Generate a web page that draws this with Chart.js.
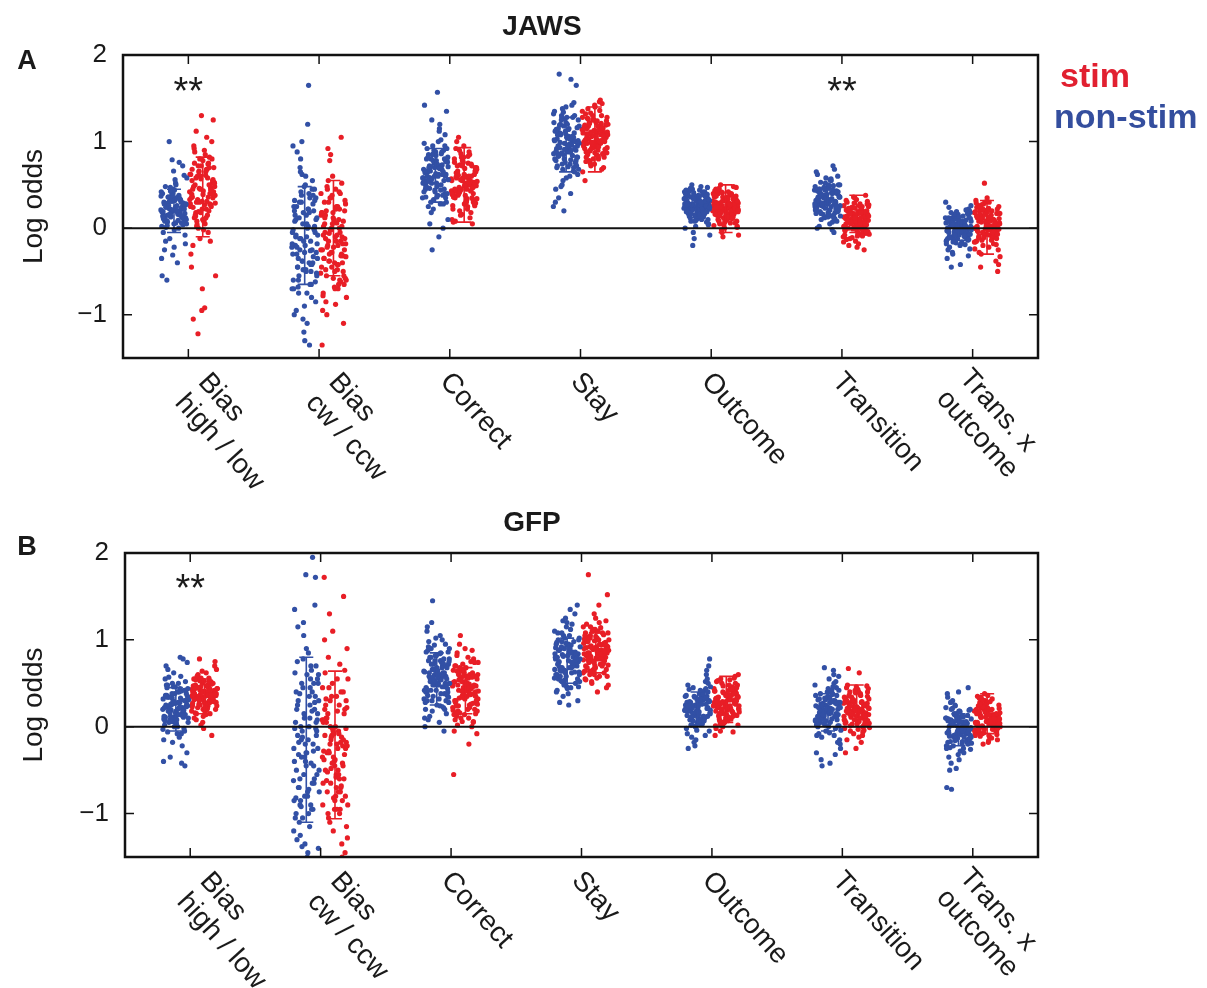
<!DOCTYPE html>
<html>
<head>
<meta charset="utf-8">
<script src="https://cdn.jsdelivr.net/npm/chart.js@4.4.1/dist/chart.umd.min.js"></script>
<style>
  body { margin: 0; background: #fff; }
  canvas { position: absolute; left: 0; }
  #panelA { top: 0; }
  #panelB { top: 494px; }
</style>
</head>
<body>
<canvas id="panelA" width="1207" height="494"></canvas>
<canvas id="panelB" width="1207" height="494"></canvas>
<script>
// Regressor labels (one strip pair per regressor)
const xLabels = [
  ['Bias', 'high / low'],
  ['Bias', 'cw / ccw'],
  ['Correct'],
  ['Stay'],
  ['Outcome'],
  ['Transition'],
  ['Trans. x', 'outcome']
];
// where each slanted label starts, relative to its tick (px)
const labelNudge = [[3, 30], [3, 30], [-5, 19], [-5, 19], [-5, 19], [-5, 19], [-20, 26]];
const yTicks = [-1, 0, 1, 2];

// JAWS, non-stim trials: log odds per session, one array per regressor
const jawsNonStim = [
  [0.21,0.35,0.08,0.27,0.45,-0.05,0.18,0.31,0.12,0.52,-0.15,0.24,0.39,0.02,0.16,0.29,0.61,-0.22,0.10,0.33,0.47,0.05,0.20,0.26,0.72,-0.31,0.14,0.38,0.23,-0.08,0.56,0.11,0.30,0.19,0.42,-0.40,0.07,0.25,0.66,0.15,0.34,-0.12,0.28,0.50,0.01,0.22,0.79,-0.55,0.17,0.36,0.09,0.44,-0.25,0.32,0.13,0.58,0.26,-0.60,0.04,0.40,0.19,0.76,1.00,-0.18,0.24,0.48,0.06,0.35,-0.35,0.20,
   0.15,0.25,0.05,0.30,0.18,0.22,0.10,0.35,0.28,0.12,0.20,0.40,0.00,0.26,0.17,0.32,0.08,0.23,0.14,0.37,0.19,0.03,0.29,0.21,0.11,0.34,0.16,0.27,0.06,0.24,0.13,0.31,0.19,0.09,0.36,0.22,-0.02,0.28,0.15,0.43],
  [-0.12,0.35,-0.48,0.10,-0.25,0.62,-0.70,0.02,-0.35,0.45,-0.90,0.20,-0.15,0.80,-0.55,0.05,-0.30,0.28,-1.05,0.95,-0.40,0.12,-0.62,0.50,-0.20,-0.80,0.38,-0.08,1.20,-0.45,0.00,-1.20,0.25,-0.65,0.70,-0.28,0.15,-0.95,0.55,-0.38,-0.05,1.65,-0.75,0.32,-1.30,0.08,-0.50,0.42,-0.18,-1.10,0.88,-0.33,0.18,-0.60,-1.35,0.30,-0.85,0.60,-0.10,-0.42,1.00,-0.22,0.22,-0.68,-0.02,0.48,-1.00,-0.26,0.65,-0.52,
   -0.10,0.25,-0.40,0.05,-0.30,0.40,-0.55,-0.05,-0.20,0.15,-0.65,0.30,-0.35,0.00,-0.45,0.20,-0.15,-0.70,0.35,-0.25,0.10,-0.50,-0.08,0.45,-0.38,-0.18,0.22,-0.60,0.02,-0.28,0.32,-0.42,-0.12,0.12,-0.75,-0.22,0.38,-0.48,-0.02,0.18],
  [0.62,0.85,0.40,0.70,0.55,1.02,0.30,0.78,0.48,0.92,0.65,0.22,0.58,1.15,0.72,0.35,0.88,0.50,0.68,1.25,0.10,0.60,0.82,0.45,0.75,0.98,0.28,0.66,1.35,0.52,0.80,0.38,0.95,0.58,-0.10,0.70,1.08,0.42,0.64,0.86,0.18,0.76,1.57,0.54,0.90,0.33,0.68,1.20,0.05,0.62,0.84,0.47,0.73,-0.25,0.56,1.00,0.25,0.80,0.60,1.42,0.44,0.71,0.92,0.36,0.66,0.00,0.78,0.52,1.12,0.58,
   0.60,0.75,0.45,0.68,0.52,0.82,0.38,0.65,0.55,0.90,0.42,0.72,0.58,0.30,0.78,0.48,0.62,0.85,0.35,0.70,0.56,0.95,0.44,0.66,0.50,0.80,0.40,0.74,0.60,0.28,0.86,0.53,0.69,0.46,0.77,0.63,0.36,0.88,0.57,0.71],
  [0.95,1.20,0.72,1.05,0.85,1.32,0.60,1.10,0.90,1.40,0.78,1.00,0.50,1.25,0.88,1.15,0.65,0.98,1.35,0.40,1.08,0.82,1.28,0.70,1.02,0.55,1.18,0.92,1.78,0.76,1.12,0.30,0.96,1.30,0.62,1.04,0.86,1.45,0.20,1.22,0.74,0.99,1.65,0.58,1.14,0.84,1.38,0.68,1.06,0.35,0.93,1.26,0.80,1.72,0.48,1.16,0.89,1.03,0.66,1.34,0.25,0.97,1.19,0.75,1.09,0.45,1.42,0.87,1.01,0.71,
   0.95,1.10,0.80,1.02,0.88,1.20,0.72,1.05,0.92,1.28,0.68,0.98,1.15,0.84,1.00,0.76,1.12,0.90,1.25,0.82,0.96,1.08,0.70,1.18,0.86,1.03,0.93,0.78,1.22,0.89,1.06,0.74,0.99,1.14,0.83,1.30,0.91,1.01,0.79,1.09],
  [0.25,0.38,0.12,0.30,0.20,0.45,0.05,0.33,0.22,0.42,0.15,0.28,0.48,0.08,0.35,0.18,0.40,0.26,-0.05,0.32,0.14,0.44,0.24,0.02,0.36,0.19,0.50,0.10,0.29,0.40,0.16,-0.12,0.34,0.23,0.46,0.07,0.31,0.21,0.39,-0.20,0.27,0.13,0.43,0.18,0.35,0.00,0.30,0.24,0.47,0.11,0.37,0.20,0.41,-0.08,0.26,0.16,0.33,0.09,0.44,0.22,0.28,0.04,0.38,0.17,0.31,0.25,0.42,0.14,0.36,0.19,
   0.25,0.32,0.18,0.28,0.22,0.36,0.14,0.30,0.24,0.40,0.10,0.27,0.34,0.20,0.29,0.16,0.38,0.23,0.31,0.12,0.26,0.35,0.19,0.42,0.21,0.33,0.15,0.28,0.37,0.08,0.25,0.30,0.17,0.39,0.22,0.27,0.13,0.34,0.24,0.44],
  [0.30,0.45,0.18,0.38,0.25,0.55,0.10,0.42,0.28,0.62,0.15,0.35,0.50,0.05,0.40,0.22,0.58,0.32,-0.02,0.37,0.20,0.48,0.27,0.68,0.12,0.44,0.33,0.53,0.08,0.39,0.24,0.72,0.16,0.36,0.46,0.02,0.31,0.52,0.21,0.41,0.29,0.60,0.13,0.34,-0.05,0.47,0.26,0.56,0.19,0.43,0.30,0.65,0.07,0.38,0.23,0.50,0.35,0.11,0.44,0.28,0.57,0.17,0.40,0.32,0.00,0.49,0.25,0.36,0.14,0.42,
   0.30,0.38,0.22,0.34,0.26,0.42,0.18,0.36,0.28,0.46,0.14,0.32,0.40,0.24,0.35,0.20,0.44,0.27,0.37,0.16,0.31,0.41,0.23,0.48,0.25,0.39,0.19,0.33,0.43,0.12,0.29,0.36,0.21,0.45,0.26,0.34,0.17,0.40,0.28,0.50],
  [-0.02,0.10,-0.12,0.05,-0.08,0.18,-0.20,0.02,-0.05,0.15,-0.15,0.08,-0.28,0.22,-0.03,0.12,-0.10,0.00,0.26,-0.18,0.06,-0.07,0.14,-0.35,0.03,-0.13,0.20,-0.01,-0.22,0.09,-0.06,0.30,-0.16,0.04,-0.09,0.16,-0.25,0.01,-0.04,0.11,-0.42,0.07,-0.11,0.19,-0.14,0.02,-0.30,0.13,-0.08,0.24,-0.19,0.05,-0.02,0.08,-0.45,0.17,-0.12,0.00,-0.06,0.10,-0.24,0.03,-0.10,0.21,-0.17,0.06,-0.04,0.12,-0.32,0.01,
   -0.02,0.05,-0.08,0.02,-0.05,0.10,-0.12,0.04,-0.03,0.14,-0.16,0.00,0.08,-0.10,0.03,-0.06,0.12,-0.01,0.06,-0.14,-0.04,0.09,-0.09,0.16,-0.07,0.07,-0.11,0.01,0.11,-0.18,-0.02,0.04,-0.13,0.13,-0.05,0.02,-0.08,0.08,-0.03,0.18]
];

// JAWS, stim trials
const jawsStim = [
  [0.42,0.65,0.18,0.80,0.31,0.55,-0.05,0.72,0.38,0.90,0.12,0.47,0.60,0.25,1.05,0.02,0.35,0.78,-0.20,0.50,0.66,0.29,0.85,0.15,0.44,1.30,-0.45,0.58,0.33,0.70,0.08,0.95,0.40,-0.12,0.62,0.22,1.12,0.52,-0.70,0.36,0.75,0.19,0.48,-0.92,0.88,0.27,0.57,-0.30,0.68,0.04,1.25,0.43,-1.05,0.82,0.30,-0.55,0.61,0.14,1.00,-0.95,0.39,0.74,-1.22,0.53,0.10,0.92,-0.15,0.45,0.28,0.68,
   0.30,0.55,0.10,0.45,0.20,0.65,0.38,0.05,0.50,0.25,0.72,0.35,0.15,0.60,0.42,-0.02,0.48,0.28,0.80,0.33,0.12,0.58,0.40,0.22,0.68,0.36,0.00,0.52,0.27,0.75,0.44,0.18,0.62,0.31,0.08,0.56,0.39,0.24,0.70,0.46],
  [-0.15,0.20,-0.40,0.05,-0.62,0.35,-0.25,-0.08,0.48,-0.50,0.12,-0.75,0.00,-0.30,0.28,-0.88,-0.12,0.52,-0.45,0.18,-0.20,0.92,-0.65,0.08,-0.35,0.40,-0.02,-0.80,0.25,-0.55,-0.18,0.60,-0.95,0.10,-0.38,0.32,-0.70,-0.05,1.05,-0.28,0.15,-0.48,0.45,-1.10,-0.22,0.02,-0.60,0.78,-0.33,0.22,-0.85,-0.10,0.38,-1.35,-0.42,0.55,-0.25,-0.68,0.30,-0.15,0.85,-0.52,0.06,-1.00,-0.32,0.18,-0.78,0.42,-0.06,-0.58,
   -0.10,0.15,-0.30,0.00,-0.45,0.25,-0.20,-0.55,0.10,-0.35,-0.05,0.35,-0.60,-0.15,0.20,-0.40,0.05,-0.25,-0.65,0.30,-0.12,-0.50,0.12,-0.32,-0.02,0.40,-0.42,-0.22,0.08,-0.58,-0.08,0.22,-0.38,-0.18,0.45,-0.48,0.02,-0.28,0.18,-0.70],
  [0.50,0.72,0.30,0.58,0.42,0.85,0.20,0.65,0.48,0.92,0.35,0.55,0.10,0.75,0.40,0.62,0.28,0.80,0.52,0.15,0.68,0.45,1.00,0.33,0.58,0.22,0.88,0.47,0.70,0.38,0.08,0.60,0.82,0.43,0.25,0.66,0.53,0.95,0.36,0.12,0.73,0.49,0.30,0.64,0.05,0.78,0.41,0.57,1.05,0.26,0.69,0.45,0.18,0.86,0.54,0.34,0.62,0.40,0.76,0.07,0.50,0.90,0.29,0.60,0.44,0.72,0.16,0.55,0.83,0.38,
   0.50,0.62,0.38,0.55,0.44,0.70,0.32,0.58,0.47,0.78,0.26,0.60,0.40,0.66,0.52,0.35,0.74,0.45,0.57,0.22,0.64,0.48,0.82,0.36,0.54,0.42,0.68,0.30,0.59,0.46,0.72,0.39,0.53,0.61,0.28,0.49,0.76,0.43,0.56,0.34],
  [1.05,1.22,0.88,1.12,0.96,1.35,0.80,1.18,1.00,1.42,0.92,1.08,0.72,1.28,1.02,1.15,0.85,1.25,0.98,1.46,0.78,1.10,0.94,1.32,0.68,1.06,1.20,0.90,1.38,0.82,1.13,1.00,1.48,0.75,1.24,0.97,1.09,0.86,1.30,0.65,1.16,1.03,0.91,1.40,0.55,1.21,0.99,1.11,0.84,1.27,0.70,1.07,0.95,1.36,0.89,1.19,1.01,0.77,1.44,0.93,1.14,0.83,1.26,1.04,0.74,1.17,0.98,1.33,0.87,1.10,
   1.05,1.15,0.95,1.10,1.00,1.22,0.88,1.12,1.02,1.30,0.92,1.08,1.18,0.85,1.04,1.25,0.97,1.13,0.90,1.20,1.06,0.82,1.16,0.99,1.28,0.94,1.09,1.03,0.87,1.19,1.01,1.11,0.93,1.24,0.98,1.07,0.80,1.14,1.00,1.21],
  [0.22,0.35,0.10,0.28,0.18,0.42,0.02,0.30,0.20,0.48,0.12,0.26,0.38,0.05,0.33,0.15,0.45,0.24,-0.05,0.29,0.14,0.40,0.21,0.00,0.36,0.17,0.50,0.08,0.27,0.43,0.13,-0.10,0.31,0.23,0.46,0.06,0.34,0.19,0.39,-0.02,0.25,0.11,0.44,0.16,0.32,0.03,0.28,0.22,0.47,0.09,0.37,0.18,0.41,-0.08,0.24,0.14,0.30,0.07,0.43,0.20,0.26,0.01,0.36,0.15,0.33,0.23,0.40,0.12,0.29,0.19,
   0.22,0.30,0.15,0.26,0.19,0.34,0.10,0.28,0.21,0.38,0.06,0.24,0.32,0.17,0.27,0.12,0.36,0.20,0.29,0.08,0.23,0.33,0.16,0.40,0.18,0.31,0.13,0.25,0.35,0.04,0.22,0.27,0.14,0.37,0.19,0.24,0.11,0.31,0.21,0.42],
  [0.08,0.20,-0.05,0.15,0.02,0.28,-0.12,0.18,0.05,0.32,-0.02,0.12,0.25,-0.18,0.10,0.00,0.35,-0.08,0.22,0.06,0.14,-0.22,0.30,0.03,0.17,-0.10,0.26,0.09,0.38,-0.15,0.11,0.01,0.24,-0.04,0.19,0.07,-0.25,0.29,0.13,-0.07,0.21,0.04,0.33,-0.13,0.16,-0.01,0.27,0.08,-0.20,0.12,0.23,-0.03,0.18,0.06,0.31,-0.09,0.14,0.02,0.36,-0.16,0.10,0.20,-0.06,0.15,0.05,0.25,-0.11,0.09,0.17,0.00,
   0.08,0.15,0.02,0.12,0.05,0.20,-0.03,0.14,0.07,0.24,-0.07,0.10,0.18,0.03,0.13,-0.01,0.22,0.06,0.16,-0.05,0.09,0.19,0.01,0.26,0.04,0.17,-0.04,0.11,0.21,-0.09,0.08,0.14,0.00,0.23,0.05,0.12,-0.02,0.18,0.07,0.28],
  [0.02,0.18,-0.15,0.10,-0.05,0.25,-0.22,0.08,-0.10,0.30,0.00,0.15,-0.30,0.22,-0.02,0.12,-0.18,0.28,0.05,-0.08,0.20,-0.38,0.06,0.32,-0.12,0.14,-0.25,0.03,0.26,-0.04,0.52,-0.16,0.09,-0.45,0.17,-0.07,0.24,0.01,-0.20,0.11,0.30,-0.28,0.07,-0.01,0.19,-0.14,0.27,-0.50,0.04,0.13,-0.09,0.21,-0.33,0.08,0.16,-0.19,0.02,0.29,-0.06,0.12,-0.42,0.23,-0.11,0.05,0.18,-0.24,0.00,0.10,-0.03,0.35,
   0.02,0.10,-0.06,0.06,-0.02,0.15,-0.10,0.08,0.00,0.20,-0.14,0.04,0.12,-0.04,0.09,-0.08,0.18,0.01,0.11,-0.12,0.03,0.14,-0.05,0.22,-0.01,0.13,-0.09,0.05,0.16,-0.16,0.02,0.07,-0.07,0.19,-0.03,0.10,-0.11,0.17,0.00,0.24]
];

// GFP, non-stim trials
const gfpNonStim = [
  [0.20,0.40,0.05,0.30,0.12,0.55,-0.08,0.25,0.35,0.00,0.48,0.15,0.62,-0.15,0.28,0.08,0.42,0.18,0.70,-0.22,0.33,0.10,0.50,0.22,-0.05,0.38,0.02,0.58,0.26,-0.30,0.14,0.45,0.78,0.06,0.32,-0.12,0.24,0.52,0.16,0.36,-0.42,0.09,0.44,0.20,0.66,-0.02,0.29,0.12,0.80,-0.35,0.38,0.04,0.48,0.22,-0.18,0.31,0.14,0.57,-0.45,0.27,0.07,0.41,0.19,0.74,-0.08,0.34,0.11,0.46,-0.40,0.23,
   0.20,0.30,0.10,0.25,0.15,0.38,0.05,0.28,0.18,0.42,0.00,0.22,0.33,0.12,0.26,0.08,0.36,0.17,0.29,-0.03,0.21,0.34,0.14,0.46,0.11,0.31,0.06,0.24,0.40,-0.06,0.19,0.27,0.09,0.44,0.16,0.23,0.03,0.35,0.13,0.50],
  [-0.15,0.55,-0.80,0.25,-0.45,1.05,-1.20,0.10,-0.60,0.70,-0.30,-1.00,0.40,-0.05,-1.40,0.85,-0.70,0.20,-0.35,1.35,-0.90,0.00,-0.55,0.60,-1.30,-0.20,0.78,-0.75,0.35,-1.10,1.72,-0.40,0.05,-0.95,0.50,-0.25,-1.45,1.15,-0.65,0.15,-0.85,0.45,-1.25,-0.10,0.90,-0.50,1.95,-1.05,0.30,-0.72,-0.18,1.40,-1.35,0.62,-0.42,-0.92,0.08,-1.50,0.75,-0.28,1.20,-0.62,-1.15,0.38,-0.02,1.75,-0.82,0.18,-1.38,0.50,
   -0.15,0.30,-0.60,0.10,-0.40,0.55,-0.85,-0.05,-0.30,0.20,-0.95,0.45,-0.50,0.00,-0.70,0.35,-0.20,-1.05,0.65,-0.35,0.15,-0.75,-0.10,0.50,-0.55,-0.25,0.25,-0.90,0.05,-0.45,0.40,-0.65,-0.12,0.60,-1.00,-0.32,0.28,-0.80,-0.02,0.70],
  [0.55,0.80,0.30,0.65,0.45,1.00,0.18,0.72,0.50,0.92,0.38,0.60,0.10,0.85,0.42,0.68,0.25,1.10,0.58,0.35,0.78,0.05,0.62,0.95,0.48,0.20,0.74,1.20,0.40,0.56,0.88,-0.05,0.66,0.32,1.05,0.52,0.15,0.82,0.44,0.70,1.45,0.28,0.60,0.98,0.46,0.76,0.00,0.54,0.90,0.36,0.64,1.15,0.22,0.72,0.50,0.84,0.12,0.58,1.02,0.40,0.68,0.30,0.86,0.48,0.08,0.62,0.94,0.42,0.76,0.56,
   0.55,0.68,0.40,0.62,0.48,0.75,0.32,0.58,0.50,0.82,0.28,0.60,0.72,0.44,0.65,0.36,0.78,0.52,0.64,0.24,0.56,0.70,0.42,0.86,0.46,0.66,0.34,0.59,0.76,0.20,0.53,0.63,0.38,0.80,0.49,0.61,0.30,0.73,0.57,0.90],
  [0.75,0.95,0.55,0.85,0.65,1.10,0.45,0.90,0.70,1.20,0.60,0.80,0.35,1.02,0.68,0.88,0.50,1.25,0.78,0.62,0.98,0.30,0.82,1.08,0.72,0.48,0.92,1.35,0.58,0.76,1.15,0.40,0.86,0.66,1.00,0.25,0.74,1.30,0.54,0.84,0.94,0.64,1.40,0.44,0.80,0.70,1.05,0.52,0.88,0.28,0.78,0.96,0.60,1.18,0.68,0.84,0.38,1.00,0.73,0.90,0.56,1.12,0.67,0.82,0.46,0.97,0.71,1.22,0.63,0.86,
   0.75,0.86,0.62,0.80,0.68,0.92,0.55,0.82,0.72,0.98,0.50,0.78,0.90,0.65,0.84,0.58,0.95,0.70,0.83,0.46,0.76,0.88,0.63,1.02,0.66,0.85,0.53,0.79,0.94,0.42,0.73,0.81,0.60,1.05,0.69,0.77,0.48,0.91,0.74,1.08],
  [0.20,0.35,0.05,0.28,0.12,0.45,-0.05,0.30,0.18,0.52,0.00,0.25,0.40,-0.12,0.22,0.10,0.48,0.32,-0.18,0.15,0.38,0.08,0.60,0.24,-0.02,0.34,0.16,0.70,0.04,0.27,0.42,-0.22,0.19,0.36,0.11,0.55,0.26,-0.08,0.31,0.14,0.78,0.06,0.29,0.44,-0.15,0.21,0.37,0.02,0.50,0.23,-0.25,0.33,0.13,0.46,0.09,0.28,0.65,-0.04,0.18,0.39,0.07,0.30,0.17,0.43,-0.10,0.25,0.35,0.03,0.22,0.12,
   0.20,0.28,0.12,0.24,0.16,0.32,0.08,0.26,0.18,0.36,0.04,0.22,0.30,0.14,0.25,0.10,0.34,0.19,0.27,0.02,0.21,0.31,0.13,0.38,0.15,0.29,0.06,0.23,0.33,0.00,0.20,0.26,0.11,0.40,0.17,0.24,0.07,0.35,0.19,0.42],
  [0.15,0.32,-0.02,0.25,0.08,0.42,-0.12,0.20,0.35,0.00,0.50,0.12,-0.20,0.28,0.05,0.45,0.18,-0.30,0.38,0.10,0.58,0.22,-0.08,0.30,0.02,0.48,0.16,-0.38,0.26,0.40,0.06,0.65,0.19,-0.15,0.33,0.11,0.52,-0.05,0.24,0.37,-0.45,0.14,0.44,0.03,0.29,0.68,-0.25,0.21,0.09,0.36,0.17,-0.10,0.46,0.27,0.01,0.55,0.13,-0.32,0.31,0.07,0.40,0.23,-0.18,0.34,0.12,0.60,0.04,0.28,-0.42,0.18,
   0.15,0.24,0.06,0.20,0.10,0.28,0.00,0.22,0.12,0.33,-0.04,0.18,0.26,0.08,0.21,0.03,0.30,0.13,0.23,-0.07,0.16,0.27,0.07,0.36,0.09,0.25,0.01,0.19,0.31,-0.10,0.14,0.22,0.05,0.38,0.11,0.20,0.02,0.29,0.14,0.42],
  [-0.05,0.10,-0.18,0.05,-0.10,0.20,-0.28,0.02,-0.08,0.15,-0.22,0.00,0.30,-0.15,0.08,-0.35,-0.02,0.25,-0.12,0.12,-0.42,0.04,-0.06,0.38,-0.25,0.06,-0.14,0.18,-0.50,0.01,-0.09,0.22,-0.20,0.03,0.45,-0.32,0.09,-0.04,0.14,-0.26,-0.01,0.28,-0.16,0.07,-0.70,0.11,-0.11,0.19,-0.38,0.00,-0.07,0.24,-0.19,0.05,-0.72,0.13,-0.13,0.34,-0.30,0.02,-0.03,0.17,-0.24,0.06,-0.48,0.10,-0.17,0.21,-0.06,0.40,
   -0.05,0.03,-0.13,-0.01,-0.09,0.08,-0.18,0.01,-0.07,0.12,-0.22,-0.03,0.05,-0.11,0.02,-0.15,0.10,-0.06,0.04,-0.20,-0.04,0.07,-0.12,0.15,-0.10,0.06,-0.17,0.00,0.11,-0.25,-0.05,0.02,-0.14,0.18,-0.08,0.00,-0.16,0.09,-0.02,0.20]
];

// GFP, stim trials
const gfpStim = [
  [0.35,0.48,0.22,0.40,0.30,0.55,0.15,0.42,0.28,0.62,0.08,0.38,0.50,0.25,0.45,0.32,0.70,0.18,0.36,0.52,0.02,0.44,0.27,0.58,0.33,0.12,0.47,0.30,0.78,0.20,0.39,0.54,-0.10,0.34,0.43,0.24,0.60,0.29,0.41,0.10,0.51,0.37,0.66,0.19,0.46,0.31,0.05,0.40,0.56,0.26,0.75,0.35,0.16,0.49,0.32,0.44,0.21,0.58,0.38,-0.02,0.42,0.28,0.53,0.36,0.14,0.46,0.30,0.64,0.23,0.40,
   0.35,0.42,0.28,0.38,0.32,0.46,0.24,0.40,0.33,0.50,0.20,0.37,0.44,0.30,0.39,0.26,0.48,0.34,0.41,0.18,0.36,0.45,0.29,0.53,0.31,0.43,0.25,0.38,0.47,0.15,0.34,0.40,0.27,0.52,0.32,0.37,0.22,0.44,0.36,0.56],
  [-0.20,0.30,-0.55,0.10,-0.85,0.50,-0.35,-0.05,-1.05,0.65,-0.45,0.20,-0.70,-0.15,0.90,-0.95,-0.30,0.40,-1.20,0.05,-0.60,1.30,-0.25,-0.80,0.25,-1.35,-0.10,0.55,-0.50,-1.00,0.15,-0.40,1.72,-0.75,0.00,-1.15,0.35,-0.62,-0.22,1.10,-0.90,-0.08,0.45,-1.45,-0.38,0.62,-0.68,-0.12,-1.28,0.18,-0.52,1.50,-0.82,-0.28,0.72,-1.10,-0.02,-0.58,0.32,-1.50,-0.42,0.08,-0.75,0.80,-0.32,-0.95,1.00,-0.18,-0.65,0.22,
   -0.20,0.10,-0.45,-0.05,-0.65,0.25,-0.30,-0.80,0.00,-0.50,-0.12,0.35,-0.90,-0.25,0.15,-0.60,-0.08,-0.38,-0.95,0.30,-0.18,-0.70,0.05,-0.42,-0.02,0.45,-0.55,-0.28,0.20,-0.85,-0.10,0.40,-0.48,-0.22,0.55,-0.75,-0.15,-0.35,0.08,-1.00],
  [0.40,0.60,0.20,0.50,0.30,0.75,0.10,0.55,0.35,0.85,0.05,0.45,0.65,0.25,0.95,0.15,0.42,0.70,0.00,0.52,0.32,0.80,0.18,0.48,0.62,-0.05,0.38,1.05,0.28,0.58,0.12,0.46,0.72,0.22,-0.20,0.54,0.36,0.90,0.08,0.44,0.66,0.26,0.50,0.02,0.78,0.34,-0.55,0.60,0.16,0.47,0.68,0.30,0.88,0.06,0.41,0.56,0.24,0.74,0.14,0.52,0.37,0.64,-0.08,0.44,0.82,0.27,0.58,0.19,0.49,0.33,
   0.40,0.52,0.28,0.46,0.34,0.60,0.20,0.48,0.38,0.66,0.14,0.44,0.56,0.30,0.50,0.24,0.62,0.36,0.47,0.10,0.42,0.58,0.32,0.70,0.26,0.54,0.18,0.45,0.64,0.06,0.39,0.51,0.22,0.68,0.35,0.49,0.16,0.57,0.41,0.74],
  [0.85,1.02,0.68,0.95,0.75,1.15,0.58,0.92,0.80,1.25,0.70,0.88,0.50,1.08,0.78,0.98,0.62,1.30,0.84,0.72,1.05,0.45,0.90,1.18,0.82,0.65,1.00,1.40,0.74,0.86,1.12,0.55,0.94,0.77,1.52,0.40,0.83,1.06,0.66,0.96,0.88,0.60,1.22,0.79,0.91,0.70,1.10,0.48,0.87,1.75,0.76,0.99,0.64,1.14,0.81,0.93,0.56,1.03,0.73,0.89,0.62,1.20,0.85,0.97,0.68,1.08,0.78,0.52,0.92,0.84,
   0.85,0.96,0.74,0.90,0.79,1.02,0.66,0.92,0.82,1.08,0.62,0.88,1.00,0.76,0.94,0.70,1.05,0.80,0.93,0.58,0.86,0.98,0.73,1.12,0.77,0.95,0.64,0.89,1.04,0.54,0.83,0.91,0.71,1.10,0.78,0.87,0.60,1.01,0.84,1.15],
  [0.25,0.40,0.10,0.32,0.18,0.50,0.02,0.35,0.22,0.56,0.06,0.28,0.45,-0.05,0.30,0.14,0.52,0.38,0.00,0.20,0.42,0.12,0.58,0.26,-0.10,0.36,0.16,0.48,0.08,0.33,0.44,0.04,0.24,0.54,0.15,0.39,0.29,-0.02,0.46,0.19,0.60,0.11,0.34,0.27,0.05,0.41,0.21,0.55,0.13,0.37,0.23,-0.06,0.47,0.17,0.31,0.09,0.50,0.26,0.01,0.43,0.20,0.35,0.07,0.53,0.30,0.15,0.44,0.24,0.03,0.38,
   0.25,0.33,0.17,0.29,0.21,0.37,0.13,0.31,0.23,0.41,0.09,0.27,0.35,0.19,0.30,0.15,0.39,0.24,0.32,0.07,0.26,0.36,0.18,0.43,0.20,0.34,0.11,0.28,0.38,0.05,0.25,0.31,0.16,0.45,0.22,0.29,0.12,0.40,0.24,0.48],
  [0.15,0.28,0.02,0.22,0.08,0.38,-0.05,0.25,0.12,0.45,0.00,0.18,0.32,-0.12,0.20,0.05,0.42,0.30,-0.18,0.14,0.35,0.06,0.48,0.24,-0.08,0.27,0.10,0.40,0.16,-0.25,0.33,0.19,0.03,0.44,0.21,0.67,0.09,0.29,-0.02,0.36,0.13,0.47,0.23,-0.15,0.17,0.31,0.04,0.62,0.26,0.11,0.39,-0.30,0.20,0.34,0.07,0.43,0.16,-0.04,0.28,0.12,0.37,0.01,0.24,0.46,0.18,-0.10,0.30,0.14,0.40,0.22,
   0.15,0.23,0.07,0.19,0.11,0.27,0.03,0.21,0.13,0.31,-0.01,0.17,0.25,0.09,0.20,0.05,0.29,0.14,0.22,-0.03,0.16,0.26,0.08,0.34,0.10,0.24,0.02,0.18,0.30,-0.06,0.15,0.21,0.06,0.36,0.12,0.19,0.04,0.28,0.15,0.40],
  [0.05,0.18,-0.05,0.12,0.00,0.25,-0.10,0.15,0.02,0.30,-0.08,0.10,0.22,-0.15,0.07,0.35,-0.02,0.20,0.04,-0.12,0.28,0.09,0.16,-0.06,0.32,0.01,0.13,-0.18,0.24,0.06,0.38,-0.04,0.19,0.11,-0.09,0.27,0.03,0.14,-0.20,0.21,0.08,0.33,-0.01,0.17,0.05,-0.13,0.26,0.10,0.36,-0.07,0.12,0.23,0.00,0.29,-0.11,0.15,0.06,0.20,-0.03,0.31,0.09,-0.16,0.18,0.04,0.25,-0.05,0.13,0.34,0.02,0.22,
   0.05,0.12,-0.01,0.09,0.02,0.16,-0.05,0.11,0.04,0.20,-0.08,0.07,0.14,0.00,0.10,-0.03,0.18,0.05,0.13,-0.06,0.06,0.15,0.01,0.23,0.03,0.14,-0.04,0.08,0.17,-0.10,0.05,0.11,-0.02,0.21,0.04,0.09,-0.07,0.16,0.06,0.26]
];

// Error bar extents [low, high] per regressor
const jawsNonStimBars = [[-0.05,0.45],[-0.65,0.48],[0.30,0.92],[0.65,1.28],[0.12,0.38],[0.15,0.45],[-0.14,0.10]];
const jawsStimBars    = [[-0.10,0.82],[-0.55,0.55],[0.07,0.93],[0.65,1.40],[-0.05,0.50],[-0.05,0.38],[-0.30,0.32]];
const gfpNonStimBars  = [[-0.05,0.45],[-1.10,0.80],[0.25,0.85],[0.50,1.02],[0.02,0.40],[-0.05,0.38],[-0.22,0.15]];
const gfpStimBars     = [[0.15,0.55],[-1.06,0.64],[0.15,0.68],[0.62,1.08],[0.05,0.58],[0.00,0.48],[-0.08,0.38]];

// Significance markers: regressor index (1-based) and height in log odds
const jawsStars = [[1, 1.65], [6, 1.65]];
const gfpStars  = [[1, 1.67]];

const FONT = '"Liberation Sans", Arial, Helvetica, sans-serif';
const BLUE = 'rgb(50,80,165)';
const RED = 'rgb(232,30,38)';
const OFFSET = 0.11;   // strip centre relative to the regressor tick
const HALF = 0.1;      // half width of a strip

// spreads the points of a strip evenly across its width
function stripPoints(groups, offset) {
  const pts = [];
  groups.forEach((vals, c) => {
    vals.forEach((v, i) => {
      const j = ((i * 0.6180339887 + c * 0.31) % 1) * 2 - 1;
      pts.push({ x: c + 1 + offset + j * HALF, y: v });
    });
  });
  return pts;
}

function makeDecor(cfg) {
  return {
    id: 'decor',
    afterDatasetsDraw(chart) {
      const { ctx, chartArea: a, scales: { x, y } } = chart;
      ctx.save();

      const bars = (list, offset, color) => {
        ctx.strokeStyle = color;
        ctx.lineWidth = 1.6;
        list.forEach(([lo, hi], c) => {
          const px = x.getPixelForValue(c + 1 + offset);
          const y0 = y.getPixelForValue(lo), y1 = y.getPixelForValue(hi);
          ctx.beginPath();
          ctx.moveTo(px, y0); ctx.lineTo(px, y1);
          ctx.moveTo(px - 7, y0); ctx.lineTo(px + 7, y0);
          ctx.moveTo(px - 7, y1); ctx.lineTo(px + 7, y1);
          ctx.stroke();
        });
      };
      bars(cfg.blueBars, -OFFSET, BLUE);
      bars(cfg.redBars, OFFSET, RED);

      // zero line
      const y0 = y.getPixelForValue(0);
      ctx.strokeStyle = '#111';
      ctx.lineWidth = 2;
      ctx.beginPath();
      ctx.moveTo(a.left, y0); ctx.lineTo(a.right, y0);
      ctx.stroke();

      // inward ticks
      ctx.lineWidth = 1.5;
      ctx.beginPath();
      yTicks.forEach(v => {
        const py = y.getPixelForValue(v);
        ctx.moveTo(a.left, py); ctx.lineTo(a.left + 9, py);
        ctx.moveTo(a.right, py); ctx.lineTo(a.right - 9, py);
      });
      xLabels.forEach((_, c) => {
        const px = x.getPixelForValue(c + 1);
        ctx.moveTo(px, a.top); ctx.lineTo(px, a.top + 9);
        ctx.moveTo(px, a.bottom); ctx.lineTo(px, a.bottom - 9);
      });
      ctx.stroke();

      // box
      ctx.lineWidth = 2.5;
      ctx.strokeRect(a.left, a.top, a.right - a.left, a.bottom - a.top);
      ctx.restore();
    },
    afterDraw(chart) {
      const { ctx, chartArea: a, scales: { x, y } } = chart;
      ctx.save();
      ctx.fillStyle = '#1a1a1a';

      // slanted regressor names
      ctx.font = '28px ' + FONT;
      ctx.textAlign = 'left';
      ctx.textBaseline = 'middle';
      const ang = 48 * Math.PI / 180, lh = 31;
      xLabels.forEach((lines, c) => {
        const [dx, dy] = labelNudge[c];
        ctx.save();
        ctx.translate(x.getPixelForValue(c + 1) + dx, a.bottom + dy);
        ctx.rotate(ang);
        lines.forEach((t, k) => ctx.fillText(t, 0, (k - (lines.length - 1) / 2) * lh));
        ctx.restore();
      });

      // significance stars
      ctx.font = '38px ' + FONT;
      ctx.textAlign = 'center';
      ctx.textBaseline = 'alphabetic';
      cfg.stars.forEach(([c, v]) => {
        ctx.fillText('**', x.getPixelForValue(c), y.getPixelForValue(v) + 19);
      });

      // panel title and letter
      ctx.font = 'bold 28px ' + FONT;
      ctx.textBaseline = 'middle';
      ctx.fillText(cfg.title, cfg.titleX, cfg.titleY);
      ctx.font = 'bold 27px ' + FONT;
      ctx.fillText(cfg.letter, 27, cfg.letterY);

      if (cfg.legend) {
        ctx.font = 'bold 34px ' + FONT;
        ctx.textAlign = 'left';
        ctx.fillStyle = 'rgb(225,32,48)';
        ctx.fillText('stim', 1060, 78);
        ctx.fillStyle = 'rgb(52,78,158)';
        ctx.fillText('non-stim', 1054, 119);
      }
      ctx.restore();
    }
  };
}

function makePanel(canvasId, nonStim, stim, cfg) {
  return new Chart(document.getElementById(canvasId), {
    type: 'scatter',
    data: {
      datasets: [
        { label: 'non-stim', data: stripPoints(nonStim, -OFFSET), backgroundColor: BLUE,
          pointRadius: 2.6, pointBorderWidth: 0 },
        { label: 'stim', data: stripPoints(stim, OFFSET), backgroundColor: RED,
          pointRadius: 2.6, pointBorderWidth: 0 }
      ]
    },
    options: {
      responsive: false,
      animation: false,
      layout: { padding: { left: 0, right: 169, top: cfg.top, bottom: cfg.bottom } },
      plugins: { legend: { display: false }, tooltip: { enabled: false } },
      scales: {
        x: { type: 'linear', min: 0.5, max: 7.5, display: false },
        y: {
          type: 'linear', min: -1.5, max: 2,
          afterBuildTicks: s => { s.ticks = yTicks.map(v => ({ value: v })); },
          afterFit: s => { s.width = cfg.left; },
          grid: { display: false, drawTicks: false },
          border: { display: false },
          ticks: { padding: 16, color: '#1a1a1a', font: { family: FONT, size: 26 },
                   callback: v => (v < 0 ? '\u2212' + Math.abs(v) : String(v)) },
          title: { display: true, text: 'Log odds', color: '#1a1a1a', padding: { top: 17 },
                   font: { family: FONT, size: 28 } }
        }
      }
    },
    plugins: [makeDecor(cfg)]
  });
}

makePanel('panelA', jawsNonStim, jawsStim, {
  left: 123, top: 55, bottom: 136, title: 'JAWS', titleX: 542, titleY: 27,
  letter: 'A', letterY: 62, stars: jawsStars, legend: true,
  blueBars: jawsNonStimBars, redBars: jawsStimBars
});
makePanel('panelB', gfpNonStim, gfpStim, {
  left: 125, top: 59, bottom: 131, title: 'GFP', titleX: 532, titleY: 29,
  letter: 'B', letterY: 54, stars: gfpStars, legend: false,
  blueBars: gfpNonStimBars, redBars: gfpStimBars
});
</script>
</body>
</html>
